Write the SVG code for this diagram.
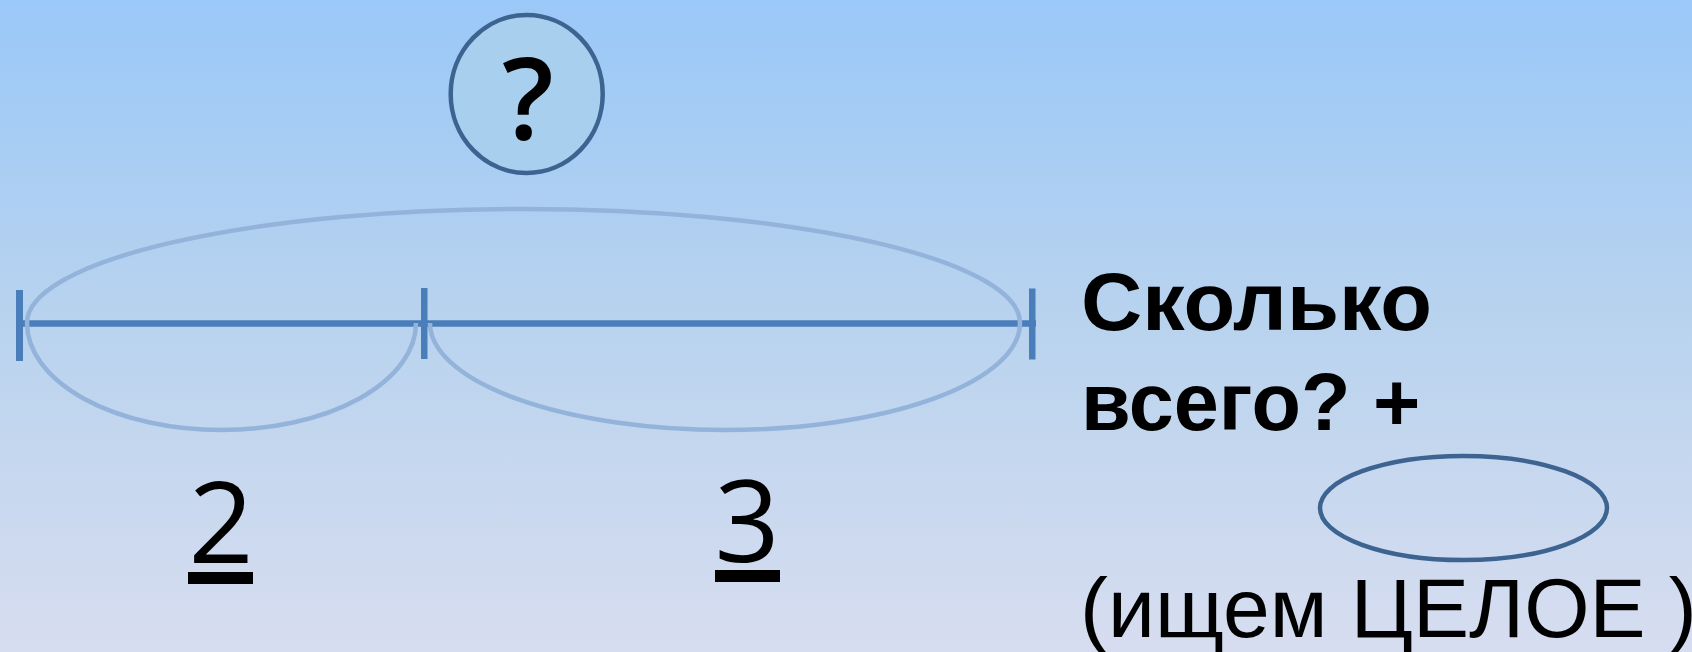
<svg xmlns="http://www.w3.org/2000/svg" width="1692" height="652" viewBox="0 0 1692 652">
  <defs>
    <linearGradient id="bg" x1="0" y1="0" x2="0" y2="1">
      <stop offset="0" stop-color="#9ac8f8"/>
      <stop offset="0.5" stop-color="#b9d3ee"/>
      <stop offset="1" stop-color="#d7ddf0"/>
    </linearGradient>
  </defs>
  <style>
    .seg { stroke: #4a7ebb; stroke-width: 6.5; fill: none; }
    .tick { fill: #4a7ebb; }
    .arc { stroke: #93b3da; stroke-width: 4.5; fill: none; }
    .ring { stroke: #3d6391; stroke-width: 4.5; }
    .num { font-family: "Open Sans", "Noto Sans", sans-serif; font-size: 114px; fill: #000; text-anchor: middle; }
    .q { font-family: "Liberation Sans", Arial, sans-serif; font-size: 81px; font-weight: bold; fill: #000; }
    .note { font-family: "Liberation Sans", Arial, sans-serif; font-size: 84px; fill: #000; }
  </style>

  <rect x="0" y="0" width="1692" height="652" fill="url(#bg)"/>

  <!-- the whole: circle with a question mark -->
  <g id="whole">
    <ellipse class="ring" cx="526.7" cy="94" rx="76" ry="79" fill="#a8d0ee"/>
    <text class="num" x="528" y="140" font-weight="600">?</text>
  </g>

  <!-- segment with three ticks -->
  <g id="segment">
    <line class="seg" x1="16" y1="323.5" x2="1036" y2="323.5"/>
    <rect class="tick" x="16" y="290" width="7" height="71"/>
    <rect class="tick" x="421" y="288" width="6.5" height="71"/>
    <rect class="tick" x="1029" y="288.5" width="6.5" height="71"/>
  </g>

  <!-- brace arcs over and under the segment -->
  <g id="connectors">
    <path class="arc" d="M27 323 A496.5 114 0 0 1 1020 323"/>
    <path class="arc" d="M27 323 A194.5 107 0 0 0 416 323"/>
    <path class="arc" d="M430 323 A295 107 0 0 0 1020 323"/>
  </g>

  <!-- parts -->
  <g id="part-2">
    <text class="num" x="221" y="563">2</text>
    <rect x="188" y="572" width="65" height="12" fill="#000"/>
  </g>
  <g id="part-3">
    <text class="num" x="747" y="562">3</text>
    <rect x="715" y="570" width="65" height="12" fill="#000"/>
  </g>

  <!-- question text -->
  <g id="question">
    <text class="q" x="1081" y="330" textLength="351" lengthAdjust="spacingAndGlyphs">Сколько</text>
    <text class="q" x="1081" y="430">всего? +</text>
  </g>

  <!-- empty answer oval -->
  <g id="answer">
    <ellipse class="ring" cx="1463.5" cy="508" rx="143.5" ry="52" fill="none"/>
  </g>

  <g id="note">
    <text class="note" x="1080" y="637">(ищем ЦЕЛОЕ )</text>
  </g>
</svg>
